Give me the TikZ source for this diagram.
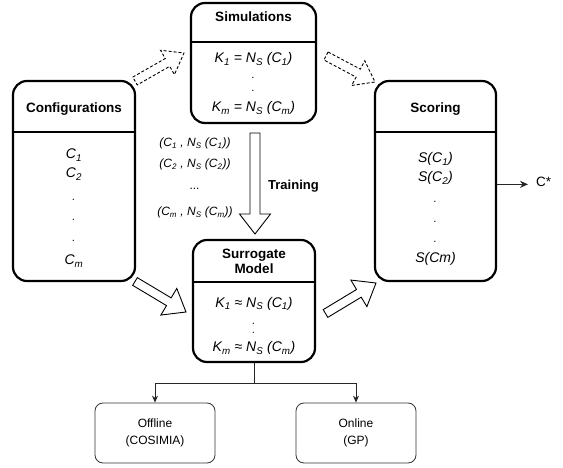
\documentclass[tikz,border=0pt]{standalone}
\usepackage{fontspec}
\setmainfont{Liberation Sans}
\usetikzlibrary{calc,arrows.meta}

\tikzset{
  bigbox/.style={draw, line width=2.2pt, rounded corners=14pt, inner sep=0pt},
  sepline/.style={line width=1.8pt},
  boxtitle/.style={font=\bfseries\fontsize{13.5}{15}\selectfont, align=center, inner sep=0pt, anchor=base},
  item/.style={font=\itshape\fontsize{14}{16}\selectfont, inner sep=0pt, anchor=base},
  dotitem/.style={item, font=\itshape\fontsize{11}{12}\selectfont, text height=2pt, text depth=0pt},
  pairtext/.style={font=\itshape\fontsize{12}{13}\selectfont, inner sep=0pt, anchor=base},
  smallbox/.style={draw=black!80, line width=0.8pt, rounded corners=8pt, font=\fontsize{12}{17}\selectfont, align=center, inner sep=0pt, minimum width=120pt, minimum height=60pt},
  hollow/.style={draw, line width=0.9pt, fill=white, line join=miter},
  dashhollow/.style={hollow, dash pattern=on 3pt off 2pt},
  link/.style={draw=black!85, line width=0.9pt},
}

% style, from, to, shaft half width, head half width, head length
\newcommand{\blockarrow}[6]{%
  \coordinate (#2#3neck) at ($(#3)!#6!(#2)$);
  \draw[#1] ($(#2)!#4!90:(#3)$) -- ($(#2#3neck)!#4!90:(#3)$) -- ($(#2#3neck)!#5!90:(#3)$)
    -- (#3) -- ($(#2#3neck)!#5!-90:(#3)$) -- ($(#2#3neck)!#4!-90:(#3)$) -- ($(#2)!#4!-90:(#3)$) -- cycle;
}

\begin{document}
\begin{tikzpicture}[x=1pt,y=-1pt]
\useasboundingbox (0,0) rectangle (563,468);

% separator heights
\coordinate (hA) at (0,132);
\coordinate (hB) at (0,42);
\coordinate (hC) at (0,282);

% main boxes
\node[bigbox, minimum width=122pt, minimum height=200pt] (conf) at (74,181) {};
\node[bigbox, minimum width=125pt, minimum height=120pt] (sim) at (253.5,63) {};
\node[bigbox, minimum width=122pt, minimum height=122pt] (surr) at (254,301) {};
\node[bigbox, minimum width=121pt, minimum height=200pt] (scor) at (435.5,181) {};

\draw[sepline] (conf.west |- hA) -- (conf.east |- hA);
\draw[sepline] (sim.west |- hB) -- (sim.east |- hB);
\draw[sepline] (surr.west |- hC) -- (surr.east |- hC);
\draw[sepline] (scor.west |- hA) -- (scor.east |- hA);

% titles
\node[boxtitle] (conft) at (74,113) {Configurations};
\node[boxtitle] (simt) at (253.5,22) {Simulations};
\node[boxtitle] (surrt) at (254,273) {Surrogate\\Model};
\node[boxtitle] (scort) at (435.5,113) {Scoring};

% configurations items
\node[item] (c1) at (74,159) {C\textsubscript{1}};
\node[item] (c2) at (74,178) {C\textsubscript{2}};
\node[dotitem] (cd1) at (74,201) {.};
\node[dotitem] (cd2) at (74,221) {.};
\node[dotitem] (cd3) at (74,242) {.};
\node[item] (cm) at (74,265) {C\textsubscript{m}};

% simulations items
\node[item] (k1) at (253.5,63) {K\textsubscript{1} = N\textsubscript{S} (C\textsubscript{1})};
\node[dotitem] (kd1) at (253.5,79) {.};
\node[dotitem] (kd2) at (253.5,92) {.};
\node[item] (km) at (253.5,112) {K\textsubscript{m} = N\textsubscript{S} (C\textsubscript{m})};

% surrogate items
\node[item] (s1) at (254,307) {K\textsubscript{1} ≈ N\textsubscript{S} (C\textsubscript{1})};
\node[dotitem] (sd1) at (254,324) {.};
\node[dotitem] (sd2) at (254,334) {.};
\node[item] (sm) at (254,352) {K\textsubscript{m} ≈ N\textsubscript{S} (C\textsubscript{m})};

% scoring items
\node[item] (sc1) at (435.5,163) {S(C\textsubscript{1})};
\node[item] (sc2) at (435.5,182) {S(C\textsubscript{2})};
\node[dotitem] (scd1) at (435.5,203) {.};
\node[dotitem] (scd2) at (435.5,223) {.};
\node[dotitem] (scd3) at (435.5,243) {.};
\node[item] (scm) at (435.5,263) {S(Cm)};

% training pairs
\node[pairtext] (p1) at (195,147) {(C\textsubscript{1} , N\textsubscript{S} (C\textsubscript{1}))};
\node[pairtext] (p2) at (195,168) {(C\textsubscript{2} , N\textsubscript{S} (C\textsubscript{2}))};
\node[pairtext] (p3) at (195,190) {...};
\node[pairtext] (p4) at (195,216) {(C\textsubscript{m} , N\textsubscript{S} (C\textsubscript{m}))};
\node[font=\bfseries\fontsize{13}{15}\selectfont, inner sep=0pt, anchor=base west] (train) at (268,190) {Training};

% small boxes
\node[smallbox] (off) at (155,433) {Offline\\(COSIMIA)};
\node[smallbox] (on) at (356,433) {Online\\(GP)};

% block arrows
\coordinate (da1) at (135,81);   \coordinate (da2) at (184,53);
\coordinate (db1) at (326,56);   \coordinate (db2) at (375,82);
\coordinate (ta1) at (255,133);  \coordinate (ta2) at (255,234);
\coordinate (ha1) at (135,281.5);\coordinate (ha2) at (186,312);
\coordinate (hb1) at (325.5,313.5);\coordinate (hb2) at (376,283);

\blockarrow{dashhollow}{da1}{da2}{4.5pt}{14pt}{19pt}
\blockarrow{dashhollow}{db1}{db2}{4.5pt}{14pt}{19pt}
\blockarrow{hollow}{ta1}{ta2}{5pt}{15.5pt}{20pt}
\blockarrow{hollow}{ha1}{ha2}{4.5pt}{15.5pt}{20pt}
\blockarrow{hollow}{hb1}{hb2}{4.5pt}{15.5pt}{20pt}

% output
\node[font=\fontsize{13.5}{15}\selectfont, inner sep=0pt, anchor=base west] (cstar) at (536,187) {C*};
\draw[link, -{Stealth[length=8pt,width=7pt]}] (scor.east |- cstar.mid) -- ([xshift=-8pt]cstar.mid west);

% tree
\coordinate (j) at (254,383);
\draw[link] (surr.south) -- (j);
\draw[link, -{Stealth[length=7pt,width=6pt]}] (j) -| (off.north);
\draw[link, -{Stealth[length=7pt,width=6pt]}] (j) -| (on.north);
\end{tikzpicture}
\end{document}
